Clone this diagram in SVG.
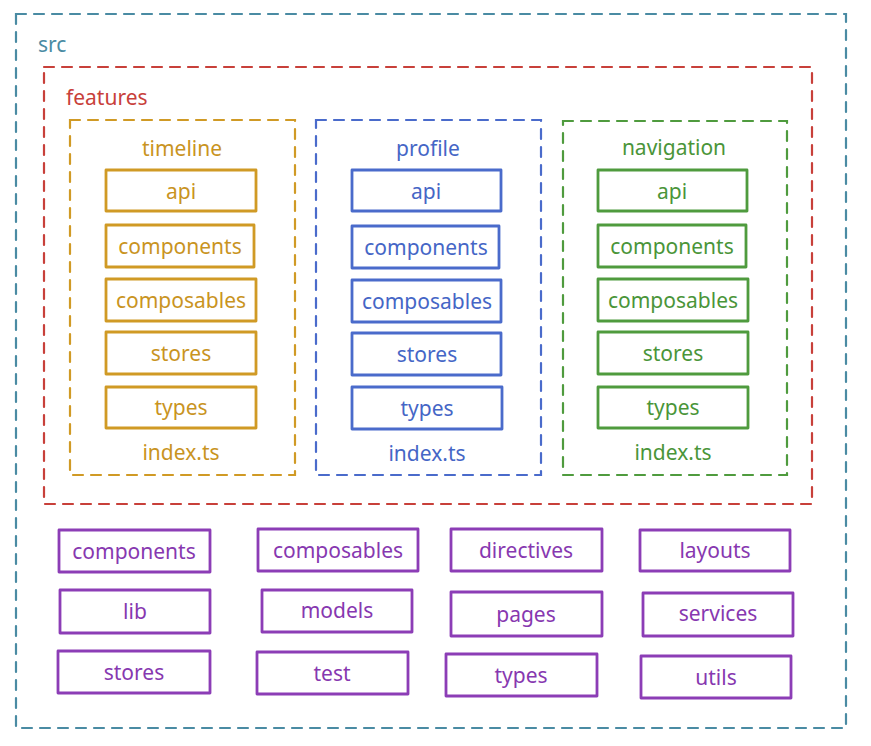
<svg xmlns="http://www.w3.org/2000/svg" width="871" height="746" viewBox="0 0 871 746">
<style>
  .dash { fill: none; stroke-width: 2.2; stroke-dasharray: 10 8; stroke-linecap: round; }
  .box { fill: none; stroke-width: 2.8; stroke-linejoin: round; }
  text { font-family: "Noto Sans", "Liberation Sans", sans-serif; font-size: 21px; text-anchor: middle; dominant-baseline: central; }
  .teal { stroke: #4a8ba3; } .tealt { fill: #4a8ba3; }
  .red { stroke: #c8403a; } .redt { fill: #c8403a; }
  .yel { stroke: #d09a25; } .yelt { fill: #c9941f; }
  .blu { stroke: #4a6bcb; } .blut { fill: #4566c6; }
  .grn { stroke: #4f9b3e; } .grnt { fill: #4a9539; }
  .pur { stroke: #8c3db6; } .purt { fill: #8738b0; }
</style>
<rect width="871" height="746" fill="#ffffff"/>
<g id="src">
  <rect class="dash teal" x="16" y="14" width="830" height="714"/>
  <text class="tealt" x="38" y="44" style="text-anchor:start">src</text>
</g>
<g id="features">
  <rect class="dash red" x="44" y="67" width="768" height="437"/>
  <text class="redt" x="66" y="97" style="text-anchor:start">features</text>
</g>
<g id="timeline">
  <rect class="dash yel" x="70" y="120" width="225" height="355"/>
  <text class="yelt" x="182" y="148">timeline</text>
  <rect class="box yel" x="106" y="170" width="150" height="41"/><text class="yelt" x="181" y="191">api</text>
  <rect class="box yel" x="106" y="225" width="148" height="42"/><text class="yelt" x="180" y="246">components</text>
  <rect class="box yel" x="106" y="279" width="150" height="42"/><text class="yelt" x="181" y="300">composables</text>
  <rect class="box yel" x="106" y="332" width="150" height="42"/><text class="yelt" x="181" y="353">stores</text>
  <rect class="box yel" x="106" y="387" width="150" height="41"/><text class="yelt" x="181" y="407">types</text>
  <text class="yelt" x="181" y="452">index.ts</text>
</g>
<g id="profile">
  <rect class="dash blu" x="316" y="120" width="225" height="355"/>
  <text class="blut" x="428" y="148">profile</text>
  <rect class="box blu" x="352" y="170" width="149" height="41"/><text class="blut" x="426" y="191">api</text>
  <rect class="box blu" x="352" y="226" width="147" height="42"/><text class="blut" x="426" y="247">components</text>
  <rect class="box blu" x="352" y="280" width="149" height="42"/><text class="blut" x="427" y="301">composables</text>
  <rect class="box blu" x="352" y="333" width="149" height="42"/><text class="blut" x="427" y="354">stores</text>
  <rect class="box blu" x="352" y="387" width="150" height="42"/><text class="blut" x="427" y="408">types</text>
  <text class="blut" x="427" y="453">index.ts</text>
</g>
<g id="navigation">
  <rect class="dash grn" x="563" y="121" width="224" height="354"/>
  <text class="grnt" x="674" y="147">navigation</text>
  <rect class="box grn" x="598" y="170" width="149" height="41"/><text class="grnt" x="672" y="191">api</text>
  <rect class="box grn" x="598" y="225" width="148" height="42"/><text class="grnt" x="672" y="246">components</text>
  <rect class="box grn" x="598" y="279" width="150" height="42"/><text class="grnt" x="673" y="300">composables</text>
  <rect class="box grn" x="598" y="332" width="150" height="42"/><text class="grnt" x="673" y="353">stores</text>
  <rect class="box grn" x="598" y="387" width="150" height="41"/><text class="grnt" x="673" y="407">types</text>
  <text class="grnt" x="673" y="452">index.ts</text>
</g>
<g id="shared">
  <g id="s-components"><rect class="box pur" x="59" y="530" width="151" height="42"/><text class="purt" x="134" y="551">components</text></g>
  <g id="s-composables"><rect class="box pur" x="258" y="529" width="160" height="42"/><text class="purt" x="338" y="550">composables</text></g>
  <g id="s-directives"><rect class="box pur" x="451" y="529" width="151" height="42"/><text class="purt" x="526" y="550">directives</text></g>
  <g id="s-layouts"><rect class="box pur" x="640" y="530" width="150" height="41"/><text class="purt" x="715" y="550">layouts</text></g>
  <g id="s-lib"><rect class="box pur" x="60" y="590" width="150" height="43"/><text class="purt" x="135" y="611">lib</text></g>
  <g id="s-models"><rect class="box pur" x="262" y="590" width="150" height="42"/><text class="purt" x="337" y="610">models</text></g>
  <g id="s-pages"><rect class="box pur" x="451" y="592" width="151" height="44"/><text class="purt" x="526" y="614">pages</text></g>
  <g id="s-services"><rect class="box pur" x="643" y="593" width="150" height="43"/><text class="purt" x="718" y="613">services</text></g>
  <g id="s-stores"><rect class="box pur" x="58" y="651" width="152" height="42"/><text class="purt" x="134" y="672">stores</text></g>
  <g id="s-test"><rect class="box pur" x="257" y="652" width="151" height="42"/><text class="purt" x="332" y="673">test</text></g>
  <g id="s-types"><rect class="box pur" x="446" y="654" width="151" height="42"/><text class="purt" x="521" y="675">types</text></g>
  <g id="s-utils"><rect class="box pur" x="641" y="656" width="150" height="42"/><text class="purt" x="716" y="677">utils</text></g>
</g>
<g id="connectors"></g>
</svg>
